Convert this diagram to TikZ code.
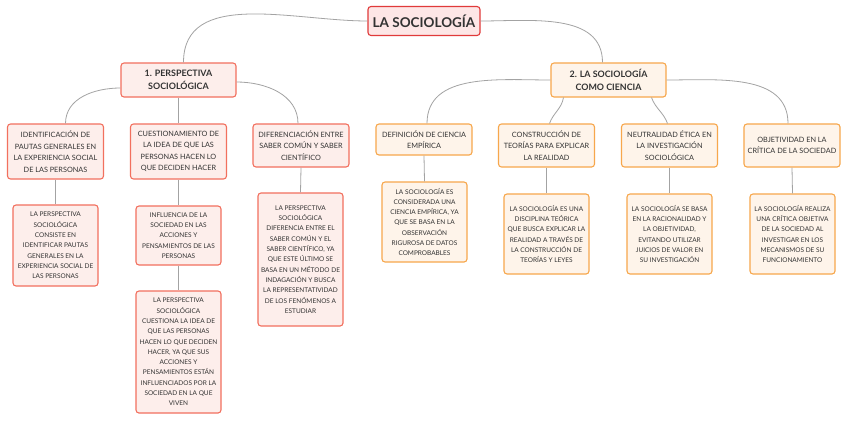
\documentclass[tikz,border=0pt]{standalone}
\usepackage{fontspec}
\setmainfont{Lato}
\definecolor{titlefill}{HTML}{FDE6E6}
\definecolor{titleline}{HTML}{E03A3A}
\definecolor{redfill}{HTML}{FDEEEB}
\definecolor{redline}{HTML}{F2705E}
\definecolor{orangefill}{HTML}{FEF4EA}
\definecolor{orangeline}{HTML}{F7A74C}
\definecolor{linkgray}{HTML}{A3A3A3}
\definecolor{textgray}{HTML}{333333}
\begin{document}
\begin{tikzpicture}[x=1pt,y=1pt,
  box/.style={rounded corners=3pt, line width=1.1pt, align=center, inner sep=1pt, text=textgray},
  titlebox/.style={box, fill=titlefill, draw=titleline, font=\fontsize{13.5}{15}\selectfont\bfseries,
    minimum width=112, minimum height=29},
  mainred/.style={box, fill=redfill, draw=redline, font=\fontsize{8.9}{12.7}\selectfont\bfseries,
    minimum width=115, minimum height=34},
  mainorange/.style={mainred, fill=orangefill, draw=orangeline},
  topicred/.style={box, fill=redfill, draw=redline, font=\fontsize{7.3}{11.5}\selectfont, minimum width=96},
  topicorange/.style={topicred, fill=orangefill, draw=orangeline},
  detailred/.style={box, fill=redfill, draw=redline, font=\fontsize{6.5}{10.3}\selectfont, minimum width=85},
  detailorange/.style={detailred, fill=orangefill, draw=orangeline},
  link/.style={draw=linkgray, line width=0.8pt}]
  \useasboundingbox[fill=white] (0,0) rectangle (848,-421);

  % root and the two branches
  \node[titlebox] (root) at (424,-21) {LA SOCIOLOGÍA};
  \node[mainred] (persp) at (178.5,-80) {1. PERSPECTIVA\\SOCIOLÓGICA};
  \node[mainorange] (ciencia) at (608.5,-80) {2. LA SOCIOLOGÍA\\COMO CIENCIA};

  % topics of branch 1
  \node[topicred, minimum height=55] (pautas) at (55.5,-151.5)
    {IDENTIFICACIÓN DE\\PAUTAS GENERALES EN\\LA EXPERIENCIA SOCIAL\\DE LAS PERSONAS};
  \node[topicred, minimum height=55] (cuest) at (178.5,-151.5)
    {CUESTIONAMIENTO DE\\LA IDEA DE QUE LAS\\PERSONAS HACEN LO\\QUE DECIDEN HACER};
  \node[topicred, minimum height=43] (difer) at (301,-145.5)
    {DIFERENCIACIÓN ENTRE\\SABER COMÚN Y SABER\\CIENTÍFICO};

  % topics of branch 2
  \node[topicorange, minimum height=31] (empir) at (424,-139.5)
    {DEFINICIÓN DE CIENCIA\\EMPÍRICA};
  \node[topicorange, minimum height=43] (teor) at (546.5,-145.5)
    {CONSTRUCCIÓN DE\\TEORÍAS PARA EXPLICAR\\LA REALIDAD};
  \node[topicorange, minimum height=43] (neutr) at (669.5,-145.5)
    {NEUTRALIDAD ÉTICA EN\\LA INVESTIGACIÓN\\SOCIOLÓGICA};
  \node[topicorange, minimum height=43] (objet) at (792,-145.5)
    {OBJETIVIDAD EN LA\\CRÍTICA DE LA SOCIEDAD};

  % details
  \node[detailred, minimum height=81] (pautasd) at (55.5,-245.5)
    {LA PERSPECTIVA\\SOCIOLÓGICA\\CONSISTE EN\\IDENTIFICAR PAUTAS\\GENERALES EN LA\\EXPERIENCIA SOCIAL DE\\LAS PERSONAS};
  \node[detailred, minimum height=59] (cuesta) at (178.5,-235.5)
    {INFLUENCIA DE LA\\SOCIEDAD EN LAS\\ACCIONES Y\\PENSAMIENTOS DE LAS\\PERSONAS};
  \node[detailred, minimum height=122] (cuestb) at (178.5,-352)
    {LA PERSPECTIVA\\SOCIOLÓGICA\\CUESTIONA LA IDEA DE\\QUE LAS PERSONAS\\HACEN LO QUE DECIDEN\\HACER, YA QUE SUS\\ACCIONES Y\\PENSAMIENTOS ESTÁN\\INFLUENCIADOS POR LA\\SOCIEDAD EN LA QUE\\VIVEN};
  \node[detailred, minimum height=133] (diferd) at (300.5,-259.5)
    {LA PERSPECTIVA\\SOCIOLÓGICA\\DIFERENCIA ENTRE EL\\SABER COMÚN Y EL\\SABER CIENTÍFICO, YA\\QUE ESTE ÚLTIMO SE\\BASA EN UN MÉTODO DE\\INDAGACIÓN Y BUSCA\\LA REPRESENTATIVIDAD\\DE LOS FENÓMENOS A\\ESTUDIAR};
  \node[detailorange, minimum height=80] (empird) at (424.5,-222)
    {LA SOCIOLOGÍA ES\\CONSIDERADA UNA\\CIENCIA EMPÍRICA, YA\\QUE SE BASA EN LA\\OBSERVACIÓN\\RIGUROSA DE DATOS\\COMPROBABLES};
  \node[detailorange, minimum height=80] (teord) at (546.5,-234)
    {LA SOCIOLOGÍA ES UNA\\DISCIPLINA TEÓRICA\\QUE BUSCA EXPLICAR LA\\REALIDAD A TRAVÉS DE\\LA CONSTRUCCIÓN DE\\TEORÍAS Y LEYES};
  \node[detailorange, minimum height=80] (neutrd) at (669.5,-234)
    {LA SOCIOLOGÍA SE BASA\\EN LA RACIONALIDAD Y\\LA OBJETIVIDAD,\\EVITANDO UTILIZAR\\JUICIOS DE VALOR EN\\SU INVESTIGACIÓN};
  \node[detailorange, minimum height=80] (objetd) at (792.5,-234)
    {LA SOCIOLOGÍA REALIZA\\UNA CRÍTICA OBJETIVA\\DE LA SOCIEDAD AL\\INVESTIGAR EN LOS\\MECANISMOS DE SU\\FUNCIONAMIENTO};

  % links
  \draw[link] (root.west) to[out=180,in=90] ([xshift=5]persp.north);
  \draw[link] (root.east) to[out=0,in=90] ([xshift=-6]ciencia.north);

  \draw[link] ([yshift=-8]persp.west) to[out=180,in=90] ([xshift=10]pautas.north);
  \draw[link] (persp.south) -- (cuest.north);
  \draw[link] ([yshift=-2]persp.east) to[out=0,in=90] ([xshift=-3]difer.north);

  \draw[link] (ciencia.west) to[out=180,in=90] ([xshift=3]empir.north);
  \draw[link] ([xshift=-45]ciencia.south) to[out=-100,in=70] ([xshift=3]teor.north);
  \draw[link] ([xshift=43]ciencia.south) to[out=-70,in=110] ([xshift=-2]neutr.north);
  \draw[link] (ciencia.east) to[out=0,in=90] ([xshift=-4]objet.north);

  \draw[link] (pautas.south) -- (pautasd.north);
  \draw[link] (cuest.south) -- (cuesta.north);
  \draw[link] (cuesta.south) -- (cuestb.north);
  \draw[link] (difer.south) -- (diferd.north);
  \draw[link] (empir.south) -- (empird.north);
  \draw[link] (teor.south) -- (teord.north);
  \draw[link] (neutr.south) -- (neutrd.north);
  \draw[link] (objet.south) -- (objetd.north);
\end{tikzpicture}
\end{document}
